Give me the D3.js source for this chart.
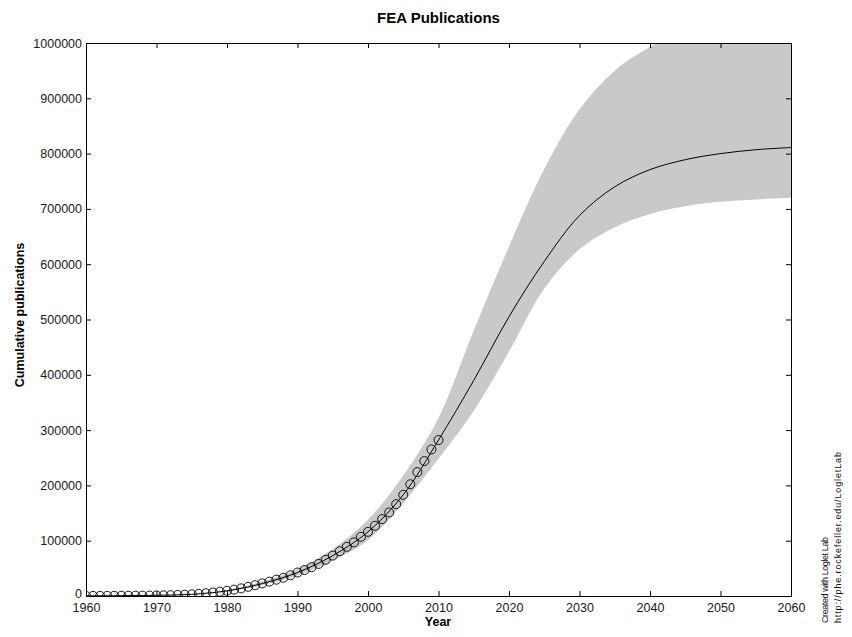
<!DOCTYPE html>
<html>
<head>
<meta charset="utf-8">
<script src="https://cdn.jsdelivr.net/npm/d3@7"></script>
<style>
  html, body { margin: 0; padding: 0; background: #fff; }
  svg { display: block; }
  text { font-family: "Liberation Sans", Arial, Helvetica, sans-serif; }
</style>
</head>
<body>
<svg id="chart" width="852" height="637"></svg>
<script>
// ---- Data ----
const obsYears = d3.range(1960, 2011);
const obsValues = [100, 150, 200, 250, 300, 400, 500, 600, 700, 850,
  1000, 1200, 1500, 1900, 2400, 3000, 3900, 5000, 6300, 7800,
  9500, 11500, 13800, 16500, 19500, 22800, 26000, 29500, 33000, 37500,
  42500, 47000, 52000, 58000, 65500, 73000, 81000, 89000, 97000, 107000,
  116000, 127000, 139000, 151000, 166000, 183000, 202000, 224000, 244000, 265000,
  282000];

const fitYears = [1960, 1965, 1970, 1975, 1980, 1985, 1990, 1995, 2000, 2005, 2010,
  2015, 2020, 2025, 2030, 2035, 2040, 2045, 2050, 2055, 2060];
const fitValues = [300, 600, 1200, 3000, 9300, 22500, 42500, 73000, 116000, 183000, 282000,
  390000, 505000, 605000, 688000, 740000, 771000, 789000, 800000, 807000, 811000];

const bandYears = [1975, 1980, 1985, 1990, 1995, 2000, 2005, 2010, 2015, 2020, 2025,
  2030, 2035, 2040, 2045, 2050, 2055, 2060];
const bandUpper = [3300, 11000, 26500, 49000, 85000, 138000, 218000, 322000, 480000, 632000, 772000,
  880000, 950000, 993000, 1030000, 1060000, 1080000, 1100000];
const bandLower = [2700, 8200, 19500, 37000, 64000, 101000, 168000, 248000, 335000, 442000, 556000,
  627000, 667000, 691000, 705000, 713000, 717000, 720000];

const xTicks = [1960, 1970, 1980, 1990, 2000, 2010, 2020, 2030, 2040, 2050, 2060];
const yTicks = [0, 100000, 200000, 300000, 400000, 500000, 600000, 700000, 800000, 900000, 1000000];

const titleText = "FEA Publications";
const xLabel = "Year";
const yLabel = "Cumulative publications";
const credit1 = "Created with Loglet Lab";
const credit2 = "http://phe.rockefeller.edu/LogletLab";

// ---- Layout ----
const svg = d3.select("#chart");
const L = 86, R = 791, T = 43, B = 596;

const x = d3.scaleLinear().domain([1960, 2060]).range([L, R]);
const y = d3.scaleLinear().domain([0, 1000000]).range([B, T]);

svg.append("defs").append("clipPath").attr("id", "plotclip")
  .append("rect").attr("x", L).attr("y", T).attr("width", R - L).attr("height", B - T);

const plot = svg.append("g").attr("clip-path", "url(#plotclip)");
const smooth = d3.curveCatmullRom.alpha(0.5);

// Confidence band
const bandData = bandYears.map((yr, i) => ({ yr, lo: bandLower[i], hi: bandUpper[i] }));
plot.append("path")
  .datum(bandData)
  .attr("fill", "#c9c9c9")
  .attr("stroke", "none")
  .attr("d", d3.area()
    .x(d => x(d.yr))
    .y0(d => y(d.lo))
    .y1(d => y(d.hi))
    .curve(smooth));

// Fit line
const fitData = fitYears.map((yr, i) => ({ yr, v: fitValues[i] }));
plot.append("path")
  .datum(fitData)
  .attr("fill", "none")
  .attr("stroke", "#000")
  .attr("stroke-width", 1)
  .attr("d", d3.line().x(d => x(d.yr)).y(d => y(d.v)).curve(smooth));

// Observed points
plot.selectAll("circle.obs")
  .data(obsYears.map((yr, i) => ({ yr, v: obsValues[i] })))
  .enter().append("circle")
  .attr("class", "obs")
  .attr("cx", d => x(d.yr))
  .attr("cy", d => y(d.v))
  .attr("r", 4.5)
  .attr("fill", "none")
  .attr("stroke", "#000")
  .attr("stroke-width", 0.9);

// Axes (MATLAB style: inward ticks on all sides)
const tickLen = 5;
const fontTick = "12.5px";

const axB = svg.append("g").attr("transform", `translate(0,${B})`)
  .call(d3.axisBottom(x).tickValues(xTicks).tickFormat(d3.format("d")).tickSizeInner(-tickLen).tickSizeOuter(0).tickPadding(10));
const axT = svg.append("g").attr("transform", `translate(0,${T})`)
  .call(d3.axisTop(x).tickValues(xTicks).tickFormat("").tickSizeInner(-tickLen).tickSizeOuter(0));
const axL = svg.append("g").attr("transform", `translate(${L},0)`)
  .call(d3.axisLeft(y).tickValues(yTicks).tickFormat(d3.format("d")).tickSizeInner(-tickLen).tickSizeOuter(0).tickPadding(4));
const axR = svg.append("g").attr("transform", `translate(${R},0)`)
  .call(d3.axisRight(y).tickValues(yTicks).tickFormat("").tickSizeInner(-tickLen).tickSizeOuter(0));

[axB, axT, axL, axR].forEach(g => {
  g.select(".domain").attr("stroke", "#000").attr("stroke-width", 1);
  g.selectAll(".tick line").attr("stroke", "#000");
  g.selectAll(".tick text")
    .attr("fill", "#1a1a1a")
    .style("font-family", "'Liberation Sans', Arial, sans-serif")
    .style("font-size", fontTick);
});
axB.selectAll(".tick text").attr("dy", "0.5em");
// keep the "0" label clear of the "1960" label below it
axL.selectAll(".tick text").filter(d => d === 0).attr("dy", "0.12em");

// Title & labels
svg.append("text")
  .attr("x", (L + R) / 2).attr("y", 23)
  .attr("text-anchor", "middle")
  .style("font-size", "15px").style("font-weight", "bold")
  .text(titleText);

svg.append("text")
  .attr("x", (L + R) / 2 - 0.5).attr("y", 626)
  .attr("text-anchor", "middle")
  .style("font-size", "12.5px").style("font-weight", "bold")
  .text(xLabel);

svg.append("text")
  .attr("transform", "translate(24,315) rotate(-90)")
  .attr("text-anchor", "middle")
  .style("font-size", "12.5px").style("font-weight", "bold")
  .text(yLabel);

// Credits
svg.append("text")
  .attr("transform", "translate(828,623) rotate(-90)")
  .attr("text-anchor", "start")
  .style("font-size", "9px")
  .attr("textLength", 86).attr("lengthAdjust", "spacing")
  .attr("fill", "#111")
  .text(credit1);
svg.append("text")
  .attr("transform", "translate(841,623) rotate(-90)")
  .attr("text-anchor", "start")
  .style("font-size", "9px")
  .attr("textLength", 171).attr("lengthAdjust", "spacing")
  .attr("fill", "#111")
  .text(credit2);
</script>
</body>
</html>
